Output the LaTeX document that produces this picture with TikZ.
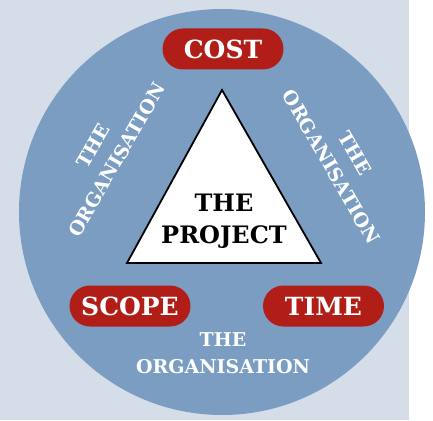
\documentclass[tikz,border=0pt]{standalone}
\usepackage{fontspec}
\setmainfont{DejaVu Serif}
\usepackage{tikz}
\usetikzlibrary{positioning}
\definecolor{fondo}{RGB}{213, 221, 233}
\definecolor{azulMedio}{RGB}{122, 157, 193}
\definecolor{rojo}{RGB}{177, 30, 24}
\tikzstyle{pill}=[rectangle, rounded corners=20.5pt, fill=rojo,
                  text=white, minimum width=121pt, minimum height=41pt,
                  inner sep=0pt, font=\bfseries\fontsize{25}{30}\selectfont]
\tikzstyle{org}=[text=white, align=center, inner sep=0pt,
                 font=\bfseries\fontsize{19}{27.5}\selectfont]
\tikzstyle{tri}=[draw=black, line width=1.8pt, fill=white,
                 line join=miter]

\begin{document}
\begin{tikzpicture}[x=1pt,y=1pt]
        \useasboundingbox (-222,-208) rectangle (211,212);

        % fondo y franja blanca
        \fill[white] (-222,-208) rectangle (211,212);
        \fill[fondo] (-222,-208) rectangle (187,212);
        \fill[azulMedio] (0,0) circle (203);

        % triangulo central
        \coordinate (a) at (0,122);
        \coordinate (b) at (-95,-51);
        \coordinate (c) at (99,-51);
        \draw[tri] (a) -- (b) -- (c) -- cycle;
        \node (project) at (2,-9) [align=center,
            font=\bfseries\fontsize{24}{32}\selectfont] {THE\\PROJECT};

        % vertices del triangulo
        \node (cost) at (1,163) [pill] {COST};
        \node (scope) at (-92,-94) [pill] {SCOPE};
        \node (time) at (101.5,-94) [pill] {TIME};

        % la organisation alrededor
        \node (orgL) at (-117,59) [org, rotate=60] {THE\\ORGANISATION};
        \node (orgR) at (121,52) [org, rotate=-60] {THE\\ORGANISATION};
        \node (orgB) at (1,-141) [org] {THE\\ORGANISATION};

\end{tikzpicture}
\end{document}
